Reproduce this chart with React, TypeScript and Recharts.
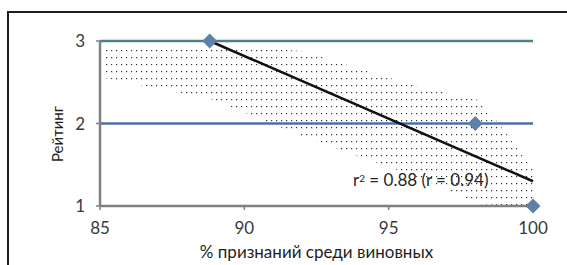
import {
  ComposedChart,
  Area,
  Line,
  Scatter,
  XAxis,
  YAxis,
  ReferenceLine,
} from 'recharts'

// observed points (% признаний, рейтинг)
const pointX = [88.8, 98, 100]
const pointY = [3, 2, 1]

// linear trend
const trendX = [88.8, 100]
const trendY = [3.0, 1.3]

// stippled band around the trend
const bandX = [85.2, 88.8, 92, 96, 98.2, 100]
const bandLow = [2.55, 2.3, 1.85, 1.35, 1.02, 1.0]
const bandHigh = [2.95, 2.95, 2.88, 2.45, 2.28, 1.45]

const xTicks = [85, 90, 95, 100]
const yTicks = [1, 2, 3]
const gridY = [3, 2]
const gridColors = ['#4f7f86', '#4a6fa8']

const points = pointX.map((x, i) => ({ x, y: pointY[i] }))
const trend = trendX.map((x, i) => ({ x, t: trendY[i] }))
const band = bandX.map((x, i) => ({ x, band: [bandLow[i], bandHigh[i]] }))

const font = 'Lato, "Open Sans", sans-serif'

function Diamond(props: any) {
  const { cx, cy } = props
  if (cx == null || cy == null) return null
  const r = 7.5
  return (
    <polygon
      points={`${cx},${cy - r} ${cx + r},${cy} ${cx},${cy + r} ${cx - r},${cy}`}
      fill="#5f81a8"
    />
  )
}

function YTitle() {
  return (
    <text
      x={57}
      y={134}
      transform="rotate(-90, 57, 134)"
      textAnchor="middle"
      dominantBaseline="central"
      fontSize={15}
      fill="#1e1e1e"
      fontFamily={font}
    >
      Рейтинг
    </text>
  )
}

export default function App() {
  return (
    <div style={{ position: 'relative', width: 567, height: 265, overflow: 'hidden', background: '#fff' }}>
      <style>{`body{margin:0}`}</style>
      <div
        style={{
          position: 'absolute',
          left: 7,
          top: 11,
          width: 600,
          height: 300,
          borderTop: '2px solid #1c1c1c',
          borderLeft: '2px solid #1c1c1c',
        }}
      />
      <div style={{ position: 'absolute', left: 0, top: 0 }}>
        <ComposedChart
          width={567}
          height={265}
          data={band}
          margin={{ top: 41, right: 34, bottom: 0, left: 60 }}
        >
          <defs>
            <pattern id="dots" width="5" height="7" patternUnits="userSpaceOnUse">
              <rect x="1" y="1" width="1.2" height="1.2" fill="#333" />
            </pattern>
          </defs>
          <XAxis
            type="number"
            dataKey="x"
            domain={[85, 100]}
            ticks={xTicks}
            height={59}
            axisLine={{ stroke: '#808080', strokeWidth: 2.5 }}
            tickLine={{ stroke: '#808080', strokeWidth: 1.5 }}
            tickSize={4}
            tickMargin={12}
            tick={{ fontSize: 17, fill: '#3a3a3a', fontFamily: font }}
            label={{
              value: '% признаний среди виновных',
              position: 'insideBottom',
              offset: 7,
              fontSize: 17,
              fill: '#1e1e1e',
              fontFamily: font,
            }}
          />
          <YAxis
            type="number"
            domain={[1, 3]}
            ticks={yTicks}
            width={40}
            axisLine={{ stroke: '#808080', strokeWidth: 2.5 }}
            tickLine={{ stroke: '#808080', strokeWidth: 1.5 }}
            tickSize={4}
            tickMargin={11}
            tick={{ fontSize: 17, fill: '#3a3a3a', fontFamily: font }}
            label={<YTitle />}
          />
          <Area
            dataKey="band"
            type="linear"
            fill="url(#dots)"
            fillOpacity={1}
            stroke="none"
            isAnimationActive={false}
          />
          {gridY.map((v, i) => (
            <ReferenceLine key={v} y={v} stroke={gridColors[i]} strokeWidth={2.5} />
          ))}
          <Line
            data={trend}
            dataKey="t"
            type="linear"
            stroke="#111"
            strokeWidth={2.5}
            dot={false}
            isAnimationActive={false}
          />
          <Scatter data={points} dataKey="y" shape={Diamond} isAnimationActive={false} />
        </ComposedChart>
      </div>
      <div
        style={{
          position: 'absolute',
          left: 353,
          top: 170,
          fontFamily: font,
          fontSize: 17,
          color: '#262626',
          whiteSpace: 'nowrap',
          lineHeight: '20px',
        }}
      >
        r<sup style={{ fontSize: 10, verticalAlign: 'top', position: 'relative', top: -2 }}>2</sup> = 0.88 (r = 0.94)
      </div>
    </div>
  )
}
